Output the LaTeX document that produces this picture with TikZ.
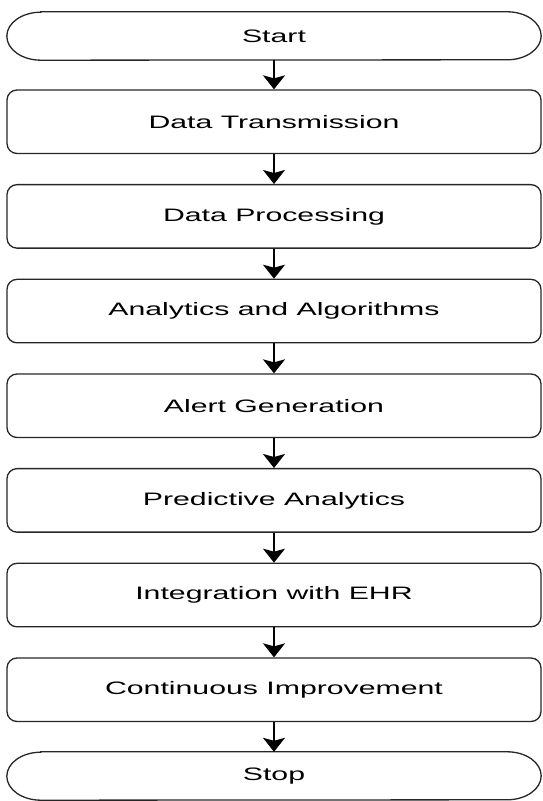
\documentclass[tikz,border=0pt]{standalone}
\usepackage{fontspec}
\usepackage{graphicx}
\setmainfont{Liberation Sans}
\usetikzlibrary{arrows.meta}
\newcommand{\wtxt}[1]{\scalebox{1.68}[1]{#1}}
\tikzset{
  procbox/.style={rectangle, draw=black!85, line width=1.3pt, rounded corners=10pt,
    minimum width=534pt, minimum height=63.5pt, inner sep=0pt,
    font=\fontsize{18}{20}\selectfont},
  termbox/.style={rectangle, minimum width=534pt, minimum height=48pt, inner sep=0pt,
    font=\fontsize{18}{20}\selectfont},
  termline/.style={draw=black!85, line width=1.3pt},
  arr/.style={line width=1.8pt, -{Stealth[width=22pt,length=14pt,inset=3pt]}}
}
\begin{document}
\begin{tikzpicture}[x=1pt,y=1pt]
\useasboundingbox (0,0) rectangle (542,801);
\node[termbox] (s) at (274,765) {\wtxt{Start}};
\draw[termline] ([xshift=34pt]s.north west) -- ([xshift=-34pt]s.north east)
  arc[start angle=90,end angle=-90,x radius=34pt,y radius=24pt]
  -- ([xshift=34pt]s.south west)
  arc[start angle=270,end angle=90,x radius=34pt,y radius=24pt] -- cycle;
\node[procbox] (b1) at (274,679.25) {\wtxt{Data Transmission}};
\node[procbox] (b2) at (274,584.6) {\wtxt{Data Processing}};
\node[procbox] (b3) at (274,489.9) {\wtxt{Analytics and Algorithms}};
\node[procbox] (b4) at (274,395.25) {\wtxt{Alert Generation}};
\node[procbox] (b5) at (274,300.6) {\wtxt{Predictive Analytics}};
\node[procbox] (b6) at (274,205.9) {\wtxt{Integration with EHR}};
\node[procbox] (b7) at (274,111.25) {\wtxt{Continuous Improvement}};
\node[termbox] (e) at (274,25) {\wtxt{Stop}};
\draw[termline] ([xshift=34pt]e.north west) -- ([xshift=-34pt]e.north east)
  arc[start angle=90,end angle=-90,x radius=34pt,y radius=24pt]
  -- ([xshift=34pt]e.south west)
  arc[start angle=270,end angle=90,x radius=34pt,y radius=24pt] -- cycle;
\draw[arr] (s.south) -- (b1.north);
\draw[arr] (b1.south) -- (b2.north);
\draw[arr] (b2.south) -- (b3.north);
\draw[arr] (b3.south) -- (b4.north);
\draw[arr] (b4.south) -- (b5.north);
\draw[arr] (b5.south) -- (b6.north);
\draw[arr] (b6.south) -- (b7.north);
\draw[arr] (b7.south) -- (e.north);
\end{tikzpicture}
\end{document}
